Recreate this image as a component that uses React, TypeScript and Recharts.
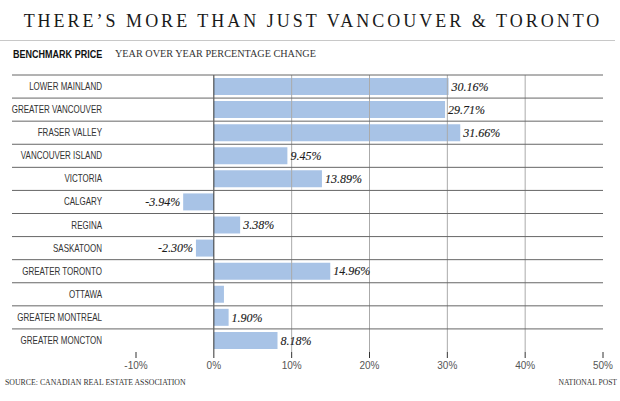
import { BarChart, Bar, XAxis, YAxis, ReferenceLine, LabelList } from 'recharts';

const regions = [
  'LOWER MAINLAND',
  'GREATER VANCOUVER',
  'FRASER VALLEY',
  'VANCOUVER ISLAND',
  'VICTORIA',
  'CALGARY',
  'REGINA',
  'SASKATOON',
  'GREATER TORONTO',
  'OTTAWA',
  'GREATER MONTREAL',
  'GREATER MONCTON',
];
const changes = [30.16, 29.71, 31.66, 9.45, 13.89, -3.94, 3.38, -2.3, 14.96, 1.3, 1.9, 8.18];
// Ottawa has no value label in the original
const valueLabels = ['30.16%', '29.71%', '31.66%', '9.45%', '13.89%', '-3.94%', '3.38%', '-2.30%', '14.96%', '', '1.90%', '8.18%'];
const xTicks = [-10, 0, 10, 20, 30, 40, 50];
const gridValues = [10, 20, 30, 40];

const data = regions.map((name, i) => ({ name, change: changes[i], label: valueLabels[i] }));

const W = 620;
const H = 401;
const TOP = 75;
const X_AXIS_H = 49;
const ROW = (H - TOP - X_AXIS_H) / regions.length;
const sans = '"Liberation Sans", Arial, sans-serif';
const serif = '"Liberation Serif", "Times New Roman", serif';

// no condensed sans installed, so squeeze Liberation Sans horizontally
const RegionTick = (props: any) => {
  const { y, payload } = props;
  return (
    <g>
      <line x1={12} x2={603} y1={y - ROW / 2} y2={y - ROW / 2} stroke="#666" strokeWidth={1} />
      <text
        transform={`translate(102 ${y}) scale(0.8 1)`}
        x={0}
        y={0}
        dy="0.35em"
        textAnchor="end"
        fontFamily={sans}
        fontSize={10}
        fill="#333"
      >
        {payload.value}
      </text>
    </g>
  );
};

const ValueLabel = (props: any) => {
  const { x, y, width, height, index } = props;
  const text = valueLabels[index];
  if (!text) return null;
  const left = Math.min(x, x + width);
  const right = Math.max(x, x + width);
  const neg = changes[index] < 0;
  return (
    <text
      x={neg ? left - 3 : right + 3}
      y={y + height / 2}
      dy="0.35em"
      textAnchor={neg ? 'end' : 'start'}
      fontFamily={serif}
      fontStyle="italic"
      fontSize={12}
      fill="#1a1a1a"
      stroke="#1a1a1a"
      strokeWidth={0.12}
    >
      {text}
    </text>
  );
};

export default function App() {
  return (
    <div style={{ position: 'absolute', left: 0, top: 0, width: W, height: H, background: '#fff', overflow: 'hidden' }}>
      <div
        style={{
          position: 'absolute',
          left: 3,
          top: 10,
          width: W,
          textAlign: 'center',
          fontFamily: serif,
          fontSize: 18,
          letterSpacing: 3,
          color: '#1a1a1a',
          lineHeight: '22px',
          whiteSpace: 'nowrap',
        }}
      >
        THERE’S MORE THAN JUST VANCOUVER &amp; TORONTO
      </div>
      <div style={{ position: 'absolute', left: 0, top: 40, width: 615, height: 1, background: '#c8c8c8' }} />
      <div
        style={{
          position: 'absolute',
          left: 13,
          top: 47,
          whiteSpace: 'nowrap',
          lineHeight: '14px',
          fontFamily: sans,
          fontWeight: 'bold',
          fontSize: 11,
          color: '#111',
          transform: 'scaleX(0.82)',
          transformOrigin: 'left center',
        }}
      >
        BENCHMARK PRICE
      </div>
      <div
        style={{
          position: 'absolute',
          left: 115,
          top: 47,
          whiteSpace: 'nowrap',
          lineHeight: '14px',
          fontFamily: serif,
          fontSize: 10.2,
          color: '#333',
        }}
      >
        YEAR OVER YEAR PERCENTAGE CHANGE
      </div>
      <BarChart
        width={W}
        height={H}
        data={data}
        layout="vertical"
        margin={{ top: TOP, right: 17, left: 0, bottom: 0 }}
        style={{ position: 'absolute', left: 0, top: 0 }}
        barCategoryGap={3}
      >
        <XAxis
          type="number"
          domain={[-10, 50]}
          ticks={xTicks}
          tickFormatter={(v: number) => `${v}%`}
          axisLine={false}
          tickLine={{ stroke: '#333' }}
          tickSize={6}
          tickMargin={4}
          height={X_AXIS_H}
          tick={{ fill: '#555', fontSize: 10, fontFamily: sans }}
          interval={0}
        />
        <YAxis
          type="category"
          dataKey="name"
          width={136}
          axisLine={false}
          tickLine={false}
          tick={<RegionTick />}
          interval={0}
        />
        <Bar dataKey="change" fill="#a8c3e6" barSize={17} isAnimationActive={false}>
          <LabelList dataKey="label" content={<ValueLabel />} />
        </Bar>
        {gridValues.map((v) => (
          <ReferenceLine key={v} x={v} stroke="#aaaaaa" strokeWidth={1} />
        ))}
        <ReferenceLine x={0} stroke="#333" strokeWidth={1} />
      </BarChart>
      <div
        style={{
          position: 'absolute',
          left: 5,
          top: 378,
          fontFamily: serif,
          fontSize: 7.8,
          color: '#333',
          whiteSpace: 'nowrap',
          lineHeight: '10px',
        }}
      >
        SOURCE: CANADIAN REAL ESTATE ASSOCIATION
      </div>
      <div
        style={{
          position: 'absolute',
          right: 3,
          top: 378,
          fontFamily: serif,
          fontSize: 7.6,
          color: '#333',
          whiteSpace: 'nowrap',
          lineHeight: '10px',
        }}
      >
        NATIONAL POST
      </div>
    </div>
  );
}
